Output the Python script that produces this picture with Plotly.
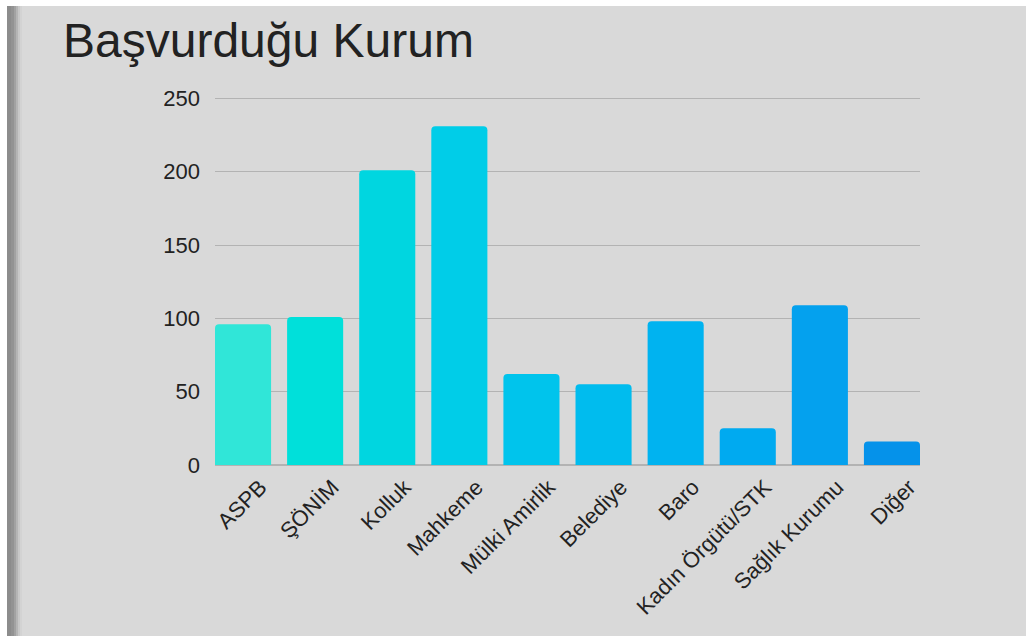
"""Başvurduğu Kurum - bar chart"""

import plotly.graph_objects as go

W, H = 1026, 636
M_L, M_R, M_T, M_B = 215, 106, 97, 171

categories = ["ASPB", "ŞÖNİM", "Kolluk", "Mahkeme", "Mülki Amirlik", "Belediye",
              "Baro", "Kadın Örgütü/STK", "Sağlık Kurumu", "Diğer"]
values = [96, 101, 201, 231, 62, 55, 98, 25, 109, 16]
bar_colors = ["#30e6d8", "#00e0da", "#00d6e0", "#00cde8", "#00c4ec",
              "#00bcee", "#00b3f0", "#00aaf0", "#04a1ee", "#0592ea"]
y_ticks = [0, 50, 100, 150, 200, 250]

BG = "#d9d9d9"
FONT = "Liberation Sans, Arial, sans-serif"
LABEL_SHIFT = 0.24  # rotated labels end a little right of the bar centre


def px_x(p):
    # pixel -> paper x
    return (p - M_L) / (W - M_L - M_R)


def px_y(p):
    # pixel (from top) -> paper y
    return 1 - (p - M_T) / (H - M_T - M_B)


idx = list(range(len(categories)))

fig = go.Figure()
fig.add_trace(go.Bar(
    x=idx,
    y=values,
    customdata=categories,
    hovertemplate="%{customdata}: %{y}<extra></extra>",
    marker=dict(color=bar_colors, line=dict(width=0), cornerradius=4),
))

# left page edge: white margin plus a soft shadow strip, white strip at top
shapes = [
    dict(type="rect", xref="paper", yref="paper", x0=px_x(0), x1=px_x(7),
         y0=px_y(H), y1=px_y(0), fillcolor="white", line_width=0, layer="above"),
    dict(type="rect", xref="paper", yref="paper", x0=px_x(0), x1=px_x(W),
         y0=px_y(6), y1=px_y(0), fillcolor="white", line_width=0, layer="above"),
]
shadow = [(7, 11, "#8c8c8c"), (11, 14, "#939393"), (14, 16, "#a2a2a2"),
          (16, 18, "#b5b5b5"), (18, 20, "#c8c8c8"), (20, 22, "#d3d3d3")]
for a, b, c in shadow:
    shapes.append(dict(type="rect", xref="paper", yref="paper", x0=px_x(a), x1=px_x(b),
                       y0=px_y(H), y1=px_y(6), fillcolor=c, line_width=0, layer="above"))

fig.update_layout(
    width=W, height=H,
    margin=dict(l=M_L, r=M_R, t=M_T, b=M_B, autoexpand=False),
    paper_bgcolor=BG, plot_bgcolor=BG,
    font=dict(family=FONT, color="#222222", size=22),
    title=dict(text="Başvurduğu Kurum", x=63 / W, xanchor="left",
               y=1 - 40 / H, yanchor="middle", xref="container",
               font=dict(size=48, color="#222222", family=FONT)),
    bargap=16 / 72,
    showlegend=False,
    shapes=shapes,
    xaxis=dict(
        range=[-0.5 + 8 / 72, 9.5 - 8 / 72],
        tickmode="array",
        tickvals=[i + LABEL_SHIFT for i in idx],
        ticktext=categories,
        tickangle=-45, showgrid=False, zeroline=False,
        showline=False, ticks="", ticklabelstandoff=4,
        tickfont=dict(size=22, color="#222222"),
    ),
    yaxis=dict(
        range=[0, 251], tickvals=y_ticks, showgrid=True,
        gridcolor="#b3b3b3", gridwidth=1, zeroline=True,
        zerolinecolor="#b3b3b3", zerolinewidth=1.5, showline=False,
        ticks="", ticklabelstandoff=14,
        tickfont=dict(size=22, color="#222222"),
    ),
)

fig.write_html("out.html", config={"displayModeBar": False},
               post_script="document.body.style.margin='0';")
